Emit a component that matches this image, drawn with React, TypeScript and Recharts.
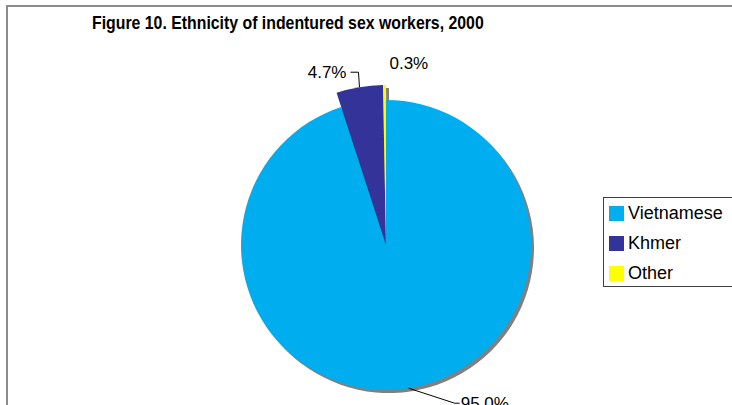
import React from "react";
import { PieChart, Pie, Cell } from "recharts";

const categories = ["Vietnamese", "Khmer", "Other"];
const shares = [95.0, 4.7, 0.3];
const sliceColors = ["#00AEEF", "#333399", "#FFFF00"];
const exploded = [false, true, true];

const data = categories.map((name, i) => ({ name, value: shares[i] }));

const FONT = "'Liberation Sans', Arial, sans-serif";
const CX = 386;
const CY = 245;
const R = 145;
const R_EXPLODED = 160;
const RAD = Math.PI / 180;

function edgePoint(cx: number, cy: number, r: number, angle: number) {
  return { x: cx + r * Math.cos(-angle * RAD), y: cy + r * Math.sin(-angle * RAD) };
}

// label renderer, one per pie; only draws for slices that belong to that pie
function makeLabel(forExploded: boolean) {
  return (props: any) => {
    const { cx, cy, outerRadius, midAngle, index, value } = props;
    if (exploded[index] !== forExploded) return null;
    const p = edgePoint(cx, cy, outerRadius, midAngle);
    const text = `${Number(value).toFixed(1)}%`;
    const style = { fontFamily: FONT, fontSize: 17, fill: "#000" };
    if (index === 0) {
      return (
        <g>
          <polyline points={`${p.x},${p.y} ${p.x + 46},${p.y + 15} ${p.x + 51},${p.y + 15}`} fill="none" stroke="#000" strokeWidth={1} />
          <text x={p.x + 52} y={p.y + 21} style={style}>{text}</text>
        </g>
      );
    }
    if (index === 1) {
      return (
        <g>
          <polyline points={`${p.x},${p.y} ${p.x - 1},${p.y - 15} ${p.x - 9},${p.y - 15}`} fill="none" stroke="#000" strokeWidth={1} />
          <text x={p.x - 13} y={p.y - 9} textAnchor="end" style={style}>{text}</text>
        </g>
      );
    }
    return <text x={p.x + 5} y={p.y - 16} style={style}>{text}</text>;
  };
}

function LegendBox() {
  return (
    <div
      style={{
        position: "absolute",
        left: 603,
        top: 197,
        width: 130,
        height: 90,
        border: "1px solid #404040",
        background: "#fff",
        boxSizing: "border-box",
        fontFamily: FONT,
        fontSize: 18,
        color: "#000",
      }}
    >
      {categories.map((c, i) => (
        <div key={c} style={{ position: "absolute", left: 5, top: 6 + i * 30, display: "flex", alignItems: "center", height: 18 }}>
          <span style={{ width: 15, height: 15, background: sliceColors[i], display: "inline-block", marginRight: 4 }} />
          <span>{c}</span>
        </div>
      ))}
    </div>
  );
}

export default function App() {
  return (
    <div style={{ position: "fixed", left: 0, top: 0, width: 732, height: 405, overflow: "hidden", background: "#fff" }}>
      <div
        style={{
          position: "absolute",
          left: 6,
          top: 5,
          width: 740,
          height: 420,
          borderTop: "2px solid #8c8c8c",
          borderLeft: "2px solid #8c8c8c",
        }}
      />
      {/* title in the original is a condensed bold face; squeeze Liberation Sans to match */}
      <div
        style={{
          position: "absolute",
          left: 92,
          top: 13,
          fontFamily: FONT,
          fontWeight: "bold",
          fontSize: 18,
          color: "#000",
          whiteSpace: "nowrap",
          transform: "scaleX(0.88)",
          transformOrigin: "left top",
        }}
      >
        Figure 10. Ethnicity of indentured sex workers, 2000
      </div>
      <div style={{ position: "absolute", left: 0, top: 0 }}>
        <PieChart width={732} height={405} margin={{ top: 0, right: 0, bottom: 0, left: 0 }}>
          {/* drop shadows */}
          <Pie data={data} dataKey="value" cx={CX + 3} cy={CY + 3} outerRadius={R} startAngle={90} endAngle={-270} stroke="none" isAnimationActive={false}>
            {data.map((d) => <Cell key={d.name} fill="#808080" />)}
          </Pie>
          <Pie data={data} dataKey="value" cx={CX + 3} cy={CY + 3} outerRadius={R_EXPLODED} startAngle={90} endAngle={-270} stroke="none" isAnimationActive={false}>
            {data.map((d, i) => <Cell key={d.name} fill={exploded[i] ? "#808080" : "transparent"} />)}
          </Pie>
          {/* main body */}
          <Pie data={data} dataKey="value" cx={CX} cy={CY} outerRadius={R} startAngle={90} endAngle={-270} stroke="none" isAnimationActive={false} label={makeLabel(false)} labelLine={false}>
            {data.map((d, i) => <Cell key={d.name} fill={exploded[i] ? "transparent" : sliceColors[i]} />)}
          </Pie>
          {/* pulled-out slices */}
          <Pie data={data} dataKey="value" cx={CX} cy={CY} outerRadius={R_EXPLODED} startAngle={90} endAngle={-270} stroke="none" isAnimationActive={false} label={makeLabel(true)} labelLine={false}>
            {data.map((d, i) => <Cell key={d.name} fill={exploded[i] ? sliceColors[i] : "transparent"} />)}
          </Pie>
        </PieChart>
      </div>
      <LegendBox />
    </div>
  );
}
